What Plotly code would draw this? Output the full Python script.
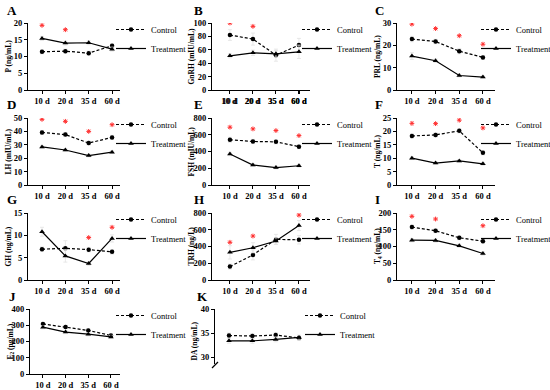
import plotly.graph_objects as go

W, H = 550, 390
days = ["10 d", "20 d", "35 d", "60 d"]
xi = [0, 1, 2, 3]

# ---- data ----
p_ctrl = [11.4, 11.6, 11.0, 13.2]
p_trt = [15.4, 14.0, 14.1, 12.2]
p_star = [19.3, 18.0, None, None]
p_err_c = [0.6, 0.6, 0.6, 0.6]
p_err_t = [0.6, 0.6, 0.6, 0.6]

gnrh_ctrl = [82, 76, 52, 67]
gnrh_trt = [51, 55.5, 54, 57]
gnrh_star = [100, 95, None, None]
gnrh_err_c = [8, 9, 9, 10]
gnrh_err_t = [3, 4, 5, 10]

prl_ctrl = [22.8, 21.7, 17.4, 14.6]
prl_trt = [15.2, 13.1, 6.5, 5.8]
prl_star = [29.5, 27.5, 24.3, 20.5]
prl_err_c = [1.2, 1.0, 1.2, 0.8]
prl_err_t = [1.5, 0.8, 0.6, 0.5]

lh_ctrl = [39.2, 37.6, 31.3, 35.5]
lh_trt = [28.4, 26.1, 22.0, 24.5]
lh_star = [49, 47.5, 40, 45]
lh_err_c = [1.5, 1.5, 1.5, 1.5]
lh_err_t = [1.0, 1.0, 1.0, 1.0]

fsh_ctrl = [540, 520, 515, 458]
fsh_trt = [370, 238, 208, 230]
fsh_star = [690, 670, 650, 590]
fsh_err_c = [30, 25, 25, 25]
fsh_err_t = [20, 15, 15, 15]

t_ctrl = [18.3, 18.7, 20.2, 12.0]
t_trt = [10.0, 8.2, 9.0, 7.9]
t_star = [23.0, 22.9, 24.2, 21.3]
t_err_c = [0.8, 0.8, 0.8, 0.8]
t_err_t = [0.5, 0.5, 0.5, 0.5]

gh_ctrl = [6.9, 7.1, 6.8, 6.3]
gh_trt = [10.8, 5.4, 3.7, 9.3]
gh_star = [None, None, 9.5, 11.8]
gh_err_c = [0.5, 1.7, 0.5, 0.5]
gh_err_t = [1.0, 1.4, 0.4, 0.8]

trh_ctrl = [160, 300, 485, 480]
trh_trt = [330, 385, 465, 650]
trh_star = [450, 525, None, 775]
trh_err_c = [30, 60, 60, 50]
trh_err_t = [80, 60, 40, 60]

t4_ctrl = [158, 147, 126, 116]
t4_trt = [119, 118, 102, 79]
t4_star = [190, 182, None, 162]
t4_err_c = [6, 6, 6, 6]
t4_err_t = [5, 5, 5, 5]

e2_ctrl = [308, 290, 268, 237]
e2_trt = [288, 258, 245, 228]
e2_star = [None, None, None, None]
e2_err_c = [10, 10, 10, 10]
e2_err_t = [10, 10, 10, 10]

da_ctrl = [34.5, 34.4, 34.6, 34.0]
da_trt = [33.4, 33.4, 33.7, 34.1]
da_star = [None, None, None, None]
da_err_c = [0.5, 0.5, 0.5, 0.5]
da_err_t = [0.5, 0.5, 0.5, 0.5]

labels = ["A", "B", "C", "D", "E", "F", "G", "H", "I", "J", "K"]
ytitles = ["P (ng/mL)", "GnRH (mIU/mL)", "PRL (ng/mL)", "LH (mIU/mL)", "FSH (mIU/mL)",
           "T (ng/mL)", "GH (ng/mL)", "TRH (ng/L)", "T<sub>4</sub> (ng/mL)",
           "E<sub>2</sub> (pg/mL)", "DA (ng/mL)"]
ymax = [20, 100, 30, 50, 800, 25, 15, 800, 200, 400, 40]
ydtick = [5, 20, 10, 10, 200, 5, 5, 200, 50, 100, 5]
ctrl = [p_ctrl, gnrh_ctrl, prl_ctrl, lh_ctrl, fsh_ctrl, t_ctrl, gh_ctrl, trh_ctrl, t4_ctrl, e2_ctrl, da_ctrl]
trt = [p_trt, gnrh_trt, prl_trt, lh_trt, fsh_trt, t_trt, gh_trt, trh_trt, t4_trt, e2_trt, da_trt]
stars = [p_star, gnrh_star, prl_star, lh_star, fsh_star, t_star, gh_star, trh_star, t4_star, e2_star, da_star]
errc = [p_err_c, gnrh_err_c, prl_err_c, lh_err_c, fsh_err_c, t_err_c, gh_err_c, trh_err_c, t4_err_c, e2_err_c, da_err_c]
errt = [p_err_t, gnrh_err_t, prl_err_t, lh_err_t, fsh_err_t, t_err_t, gh_err_t, trh_err_t, t4_err_t, e2_err_t, da_err_t]

# ---- layout geometry (pixels) ----
col_x = [(28, 120, -0.6, 3.34), (212, 310, -0.78, 3.48), (397, 495, -0.63, 3.51)]
row_y = [(23, 90), (118, 185), (213, 280), (309, 374)]
letter_dx = [-23, -20, -24]
title_dx = [-20, -21, -19.5]
legend_x = [111, 297, 476]
FONT = "Liberation Serif, Times New Roman, serif"

fig = go.Figure()
layout = dict(width=W, height=H, margin=dict(l=0, r=0, t=0, b=0, autoexpand=False),
              autosize=False, paper_bgcolor="white", plot_bgcolor="white", showlegend=True,
              font=dict(family=FONT, color="black"))
annotations = []
shapes = []


def px2x(p):
    return p / W


def py2y(p):
    return 1 - p / H


for i in range(11):
    r, c = divmod(i, 3)
    x0, x1, r0, r1 = col_x[c]
    if i == 9:
        x0, x1, r0, r1 = 30, 120, -0.57, 3.4
    if i == 10:
        x0, x1, r0, r1 = 215, 310, -0.6, 3.47
    top, bot = row_y[r]
    n = i + 1
    xs = "" if n == 1 else str(n)
    xa, ya = "xaxis" + xs, "yaxis" + xs
    xref, yref = "x" + xs, "y" + xs
    leg = "legend" + xs
    tickfont = dict(family=FONT, size=8.5, color="black", weight="bold")
    axcommon = dict(showline=True, linecolor="black", linewidth=1.3, ticks="outside",
                    ticklen=3, tickwidth=1.2, tickcolor="black", showgrid=False,
                    zeroline=False, tickfont=tickfont, fixedrange=True)
    layout[xa] = dict(domain=[px2x(x0), px2x(x1)], range=[r0, r1], anchor=yref,
                      tickvals=xi, ticktext=days, **axcommon)
    if i != 10:
        layout[ya] = dict(domain=[py2y(bot), py2y(top)], range=[0, ymax[i]], anchor=xref,
                          dtick=ydtick[i], tick0=0, **axcommon)
        tx, ty = xref, yref
    else:
        # broken axis: short lower segment showing 0, upper segment 30-40
        layout[ya] = dict(domain=[py2y(bot), py2y(bot - 7)], range=[0, 1.4], anchor=xref,
                          tickvals=[0], **axcommon)
        layout["yaxis12"] = dict(domain=[py2y(bot - 10), py2y(top)], range=[28.6, 40],
                                 anchor=xref, tickvals=[30, 35, 40], **axcommon)
        tx, ty = xref, "y12"
        shapes.append(dict(type="line", xref="paper", yref="paper",
                           x0=px2x(x0 - 3), y0=py2y(bot - 6), x1=px2x(x0 + 3), y1=py2y(bot - 12),
                           line=dict(color="black", width=1.2)))

    eb = dict(type="data", thickness=0.8, width=2, color="#e2e2e2")
    fig.add_trace(go.Scatter(x=xi, y=ctrl[i], xaxis=tx, yaxis=ty, mode="lines+markers",
                             name="Control", legend=leg,
                             line=dict(color="black", width=1.2, dash="3px,2px"),
                             marker=dict(symbol="circle", size=4.5, color="black"),
                             error_y=dict(array=errc[i], **eb)))
    fig.add_trace(go.Scatter(x=xi, y=trt[i], xaxis=tx, yaxis=ty, mode="lines+markers",
                             name="Treatment", legend=leg,
                             line=dict(color="black", width=1.2),
                             marker=dict(symbol="triangle-up", size=5, color="black"),
                             error_y=dict(array=errt[i], **eb)))
    if any(v is not None for v in stars[i]):
        fig.add_trace(go.Scatter(x=xi, y=stars[i], xaxis=tx, yaxis=ty, mode="markers",
                                 marker=dict(symbol="asterisk", size=4,
                                             line=dict(color="#ff3030", width=1)),
                                 showlegend=False, hoverinfo="skip"))

    lx = legend_x[c] + (3 if i == 10 else 0)
    layout[leg] = dict(x=px2x(lx), y=py2y(top - 8), xanchor="left", yanchor="top",
                       bgcolor="rgba(0,0,0,0)", font=dict(family=FONT, size=8.5, color="black"),
                       itemclick=False, itemdoubleclick=False)

    annotations.append(dict(text="<b>%s</b>" % labels[i], xref="paper", yref="paper",
                            x=px2x(x0 + letter_dx[c]), y=py2y(top - 13), xanchor="left",
                            yanchor="middle", showarrow=False,
                            font=dict(family=FONT, size=13, color="black")))
    annotations.append(dict(text="<b>%s</b>" % ytitles[i], xref="paper", yref="paper",
                            x=px2x(x0 + title_dx[c]), y=py2y((top + bot) / 2), textangle=-90,
                            xanchor="center", yanchor="middle", showarrow=False,
                            font=dict(family=FONT, size=7.5, color="black")))

layout["annotations"] = annotations
layout["shapes"] = shapes
fig.update_layout(**layout)
fig.write_html("out.html", config={"displayModeBar": False},
               post_script="document.body.style.margin='0';")
